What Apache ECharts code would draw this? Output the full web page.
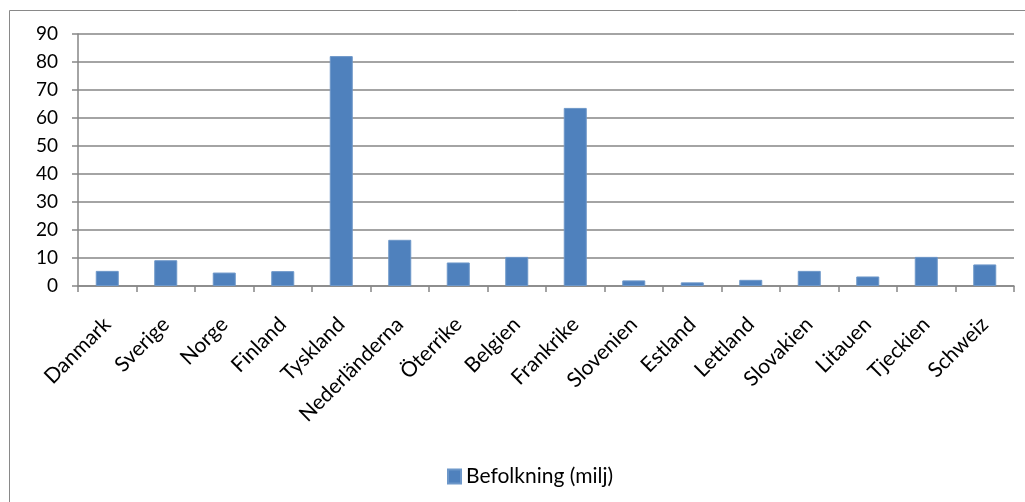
<!DOCTYPE html>
<html><head><meta charset="utf-8">
<script src="https://cdn.jsdelivr.net/npm/echarts@6/dist/echarts.min.js"></script>
<style>html,body{margin:0;padding:0;background:#fff}#c{width:1025px;height:502px}</style>
</head><body><div id="c"></div>
<script>
const categories = ["Danmark","Sverige","Norge","Finland","Tyskland","Nederländerna","Öterrike","Belgien","Frankrike","Slovenien","Estland","Lettland","Slovakien","Litauen","Tjeckien","Schweiz"];
const befolkning = [5.4, 9.2, 4.8, 5.3, 82.1, 16.5, 8.4, 10.4, 63.6, 2.0, 1.3, 2.2, 5.4, 3.4, 10.4, 7.7];
const yTicks = {min: 0, max: 90, interval: 10};
const seriesName = "Befolkning (milj)";
const font = "Lato, 'Liberation Sans', sans-serif";
const chart = echarts.init(document.getElementById('c'), null, {renderer: 'canvas'});
chart.setOption({
  animation: false,
  graphic: [{type: 'rect', shape: {x: 9.5, y: 10.5, width: 1030, height: 500}, style: {fill: 'none', stroke: '#898989', lineWidth: 1}, z: -1}],
  grid: {left: 78, right: 11, top: 34, bottom: 216, containLabel: false},
  legend: {data: [seriesName], top: 461, left: 442, itemWidth: 13, itemHeight: 14, icon: 'rect', itemGap: 6,
    textStyle: {fontFamily: font, fontSize: 21, color: '#000'}},
  xAxis: {type: 'category', data: categories, boundaryGap: true,
    axisLine: {lineStyle: {color: '#868686', width: 1.5}},
    axisTick: {show: true, length: 6, alignWithLabel: false, lineStyle: {color: '#868686', width: 1.5}},
    axisLabel: {rotate: 45, interval: 0, fontFamily: font, fontSize: 21, color: '#000', margin: 35}},
  yAxis: {type: 'value', min: yTicks.min, max: yTicks.max, interval: yTicks.interval,
    axisLine: {show: true, lineStyle: {color: '#868686', width: 1.5}},
    axisTick: {show: true, length: 6, lineStyle: {color: '#868686', width: 1.5}},
    splitLine: {lineStyle: {color: '#868686', width: 1.5}},
    axisLabel: {fontFamily: font, fontSize: 19, color: '#000', margin: 20}},
  series: [{name: seriesName, type: 'bar', data: befolkning, barWidth: 23,
    itemStyle: {color: '#4F81BD', borderColor: '#6d97c9', borderWidth: 1}}]
});
</script></body></html>
